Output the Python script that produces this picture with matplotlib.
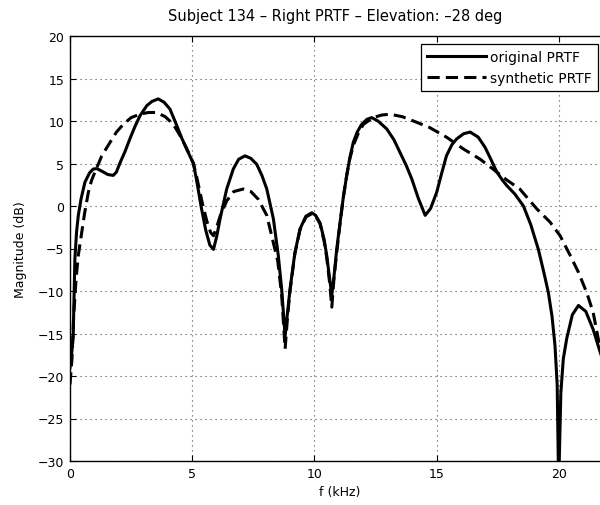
import matplotlib
matplotlib.use('Agg')
import matplotlib.pyplot as plt

plt.rcParams['font.family'] = ['DejaVu Sans']

# original PRTF, f in kHz, magnitude in dB
f_orig = [0.0, 0.08, 0.13, 0.2, 0.27, 0.34, 0.45, 0.61, 0.8, 0.95, 1.1, 1.3, 1.55, 1.77, 1.9,
          2.05, 2.25, 2.45, 2.65, 2.86, 3.14, 3.35, 3.61, 3.85, 4.09, 4.37, 4.57, 4.77, 5.05,
          5.2, 5.36, 5.55, 5.72, 5.87, 6.0, 6.14, 6.41, 6.68, 6.9, 7.16, 7.4, 7.64, 7.85, 8.05,
          8.32, 8.52, 8.66, 8.8, 8.9, 9.0, 9.2, 9.41, 9.65, 9.89, 10.05, 10.23, 10.4, 10.5,
          10.62, 10.71, 10.8, 10.91, 11.05, 11.18, 11.32, 11.45, 11.59, 11.75, 11.93, 12.15,
          12.34, 12.6, 12.96, 13.25, 13.5, 13.75, 13.98, 14.25, 14.53, 14.75, 15.0, 15.2, 15.4,
          15.62, 15.82, 16.1, 16.37, 16.7, 16.98, 17.2, 17.46, 17.7, 17.87, 18.2, 18.55, 18.85,
          19.16, 19.4, 19.57, 19.72, 19.84, 19.93, 19.99, 20.08, 20.18, 20.32, 20.55, 20.8,
          21.1, 21.4, 21.69, 21.9]
mag_orig = [-19, -17, -15.3, -6.2, -3, -1.1, 0.8, 2.8, 3.9, 4.35, 4.4, 4.1, 3.7, 3.6, 4.0,
            5.1, 6.4, 7.9, 9.3, 10.6, 11.8, 12.3, 12.6, 12.2, 11.4, 9.45, 8.0, 6.7, 5.0,
            2.7, 0.0, -2.8, -4.6, -5.1, -3.6, -1.5, 2.0, 4.35, 5.5, 5.9, 5.6, 4.9, 3.6, 2.0,
            -1.5, -5.8, -9.8, -15.3, -12.5, -9.8, -5.5, -2.7, -1.2, -0.8, -1.1, -2.0, -4.0, -5.8,
            -8.5, -10.5, -8.3, -5.1, -1.9, 1.0, 3.6, 5.7, 7.5, 8.7, 9.6, 10.2,
            10.4, 10.0, 9.06, 7.8, 6.3, 4.8, 3.2, 0.9, -1.1, -0.3, 1.6, 3.8, 5.9,
            7.2, 7.9, 8.5, 8.7, 8.1, 6.9, 5.6, 4.0, 3.0, 2.4, 1.4, 0.0, -2.2,
            -5.1, -8.0, -10.2, -13, -16.4, -21, -33, -22, -18, -15.6, -12.8, -11.7,
            -12.4, -14.5, -17.2, -19]

# synthetic PRTF
f_synth = [0.0, 0.08, 0.15, 0.25, 0.34, 0.48, 0.6, 0.75, 0.88, 1.02, 1.3, 1.64, 1.9, 2.18,
           2.5, 2.86, 3.2, 3.55, 3.9, 4.23, 4.5, 4.77, 5.05, 5.2, 5.4, 5.6, 5.75, 5.87, 6.0,
           6.14, 6.41, 6.7, 7.09, 7.4, 7.7, 8.05, 8.25, 8.5, 8.66, 8.8, 8.9, 9.0, 9.2, 9.41,
           9.65, 9.89, 10.05, 10.23, 10.4, 10.5, 10.62, 10.71, 10.8, 10.91, 11.05, 11.18, 11.32,
           11.45, 11.6, 11.8, 12.0, 12.4, 12.75, 13.1, 13.6, 14.05, 14.7, 15.4, 16.1, 16.78,
           17.3, 17.85, 18.4, 19.1, 19.64, 20.05, 20.46, 20.8, 21.14, 21.4, 21.69, 21.9]
mag_synth = [-21, -18, -13, -8.5, -5.8, -3.1, -0.8, 1.6, 3.0, 4.0, 5.9, 7.5, 8.7, 9.6,
             10.4, 10.8, 11.0, 11.0, 10.5, 9.6, 8.3, 6.8, 5.0, 3.2, 0.5, -1.8, -3.1, -3.5, -2.5,
             -1.2, 0.6, 1.7, 2.0, 1.7, 0.8, -1.1, -3.5, -6.5, -10.5, -16.8, -13, -10, -5.6, -2.8,
             -1.3, -0.9, -1.2, -2.1, -4.2, -6.0, -9, -11.9, -8.5, -5.5, -2.0, 1.0, 3.6,
             5.6, 7.2, 8.6, 9.6, 10.4, 10.7, 10.8, 10.5, 10.0, 9.25, 8.1, 6.7, 5.5,
             4.35, 3.1, 2.0, -0.35, -1.9, -3.5, -5.8, -7.8, -10.2, -12.5, -16.8, -19]

fig = plt.figure(figsize=(6.0, 5.06), dpi=100, facecolor='white')
# the original image is cropped: right spine lies just past the edge
ax = fig.add_axes([70/600, 44/506, 539/600, 425/506])

ax.plot(f_orig, mag_orig, 'k-', lw=2.2, label='original PRTF')
ax.plot(f_synth, mag_synth, 'k--', lw=2.2, dashes=(4, 2), label='synthetic PRTF')

ax.set_xlim(0, 22.05)
ax.set_ylim(-30, 20)
ax.set_xticks([0, 5, 10, 15, 20])
ax.set_yticks(range(-30, 21, 5))
ax.grid(True, color='0.3', linestyle=(0, (1, 3.5)), lw=0.8)
ax.tick_params(direction='in', top=True, right=True, labelsize=9, length=4, width=0.8, pad=4)
for s in ax.spines.values():
    s.set_linewidth(1.0)

ax.set_xlabel('f (kHz)', fontsize=9, labelpad=4)
ax.set_ylabel('Magnitude (dB)', fontsize=9, labelpad=8)
fig.text(335/600, 1 - 17/506, 'Subject 134 – Right PRTF – Elevation: –28 deg',
         ha='center', va='center', fontsize=10.5)

leg = ax.legend(loc='upper right', bbox_to_anchor=(528/539, 1 - 8/425), fontsize=10,
                fancybox=False, framealpha=1, edgecolor='black', handlelength=4.2,
                borderpad=0.45, labelspacing=0.45, handletextpad=0.3, borderaxespad=0)
leg.get_frame().set_linewidth(0.9)

fig.savefig('out.png', dpi=100)
